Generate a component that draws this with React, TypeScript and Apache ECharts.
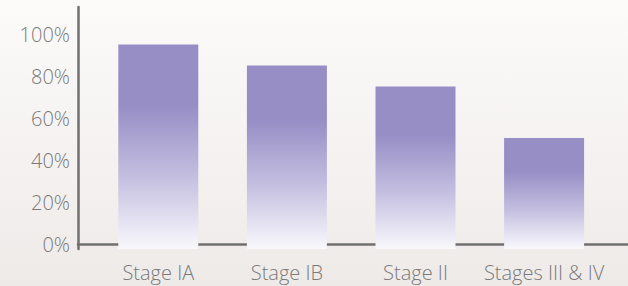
import React, { useEffect, useRef } from "react";
import * as echarts from "echarts";

const categories = ["Stage IA", "Stage IB", "Stage II", "Stages III & IV"];
const values = [95, 85, 75, 50.5];
const tickValues = [0, 20, 40, 60, 80, 100];

export default function App() {
  const ref = useRef<HTMLDivElement>(null);
  useEffect(() => {
    document.body.style.margin = "0";
    const chart = echarts.init(ref.current!, null, { renderer: "svg" });
    const labelColor = "#7a7a7a";
    const font = "'Open Sans', 'Noto Sans', sans-serif";
    const yMin = -2.38;
    const yMax = 112.86;
    chart.setOption({
      animation: false,
      backgroundColor: "transparent",
      grid: [
        { left: 78, right: 0, top: 7, bottom: 37 },
        { left: 94, right: 19.6, top: 7, bottom: 37 },
      ],
      xAxis: [
        {
          type: "category",
          gridIndex: 0,
          data: categories,
          axisLine: { show: true, lineStyle: { color: "#707070", width: 2.5 } },
          axisTick: { show: false },
          axisLabel: { show: false },
          splitLine: { show: false },
        },
        {
          type: "category",
          gridIndex: 1,
          data: categories,
          axisLine: { show: false },
          axisTick: { show: false },
          axisLabel: {
            color: labelColor,
            fontSize: 20,
            fontWeight: 300,
            fontFamily: font,
            margin: 13,
            interval: 0,
          },
          splitLine: { show: false },
        },
      ],
      yAxis: [
        {
          type: "value",
          gridIndex: 0,
          min: yMin,
          max: yMax,
          axisLine: { show: true, lineStyle: { color: "#707070", width: 2.5 } },
          axisTick: { show: false },
          splitLine: { show: false },
          axisLabel: {
            color: labelColor,
            fontSize: 20,
            fontWeight: 300,
            fontFamily: font,
            margin: 8,
            showMinLabel: false,
            showMaxLabel: false,
            formatter: (v: number) => {
              const r = Math.round(v);
              return Math.abs(v - r) < 1e-6 && tickValues.indexOf(r) >= 0 ? r + "%" : "";
            },
          },
        },
        {
          type: "value",
          gridIndex: 1,
          min: yMin,
          max: yMax,
          show: false,
        },
      ],
      series: [
        {
          type: "custom",
          xAxisIndex: 1,
          yAxisIndex: 1,
          data: values.map((v, i) => [i, v]),
          renderItem: (params: any, api: any) => {
            const top = api.coord([api.value(0), api.value(1)]);
            const bottom = params.coordSys.y + params.coordSys.height;
            const w = api.size([1, 0])[0] * 0.622;
            return {
              type: "rect",
              shape: { x: top[0] - w / 2, y: top[1], width: w, height: bottom - top[1] },
              style: {
                fill: new echarts.graphic.LinearGradient(0, 0, 0, 1, [
                  { offset: 0, color: "#978ec6" },
                  { offset: 0.3, color: "#978ec6" },
                  { offset: 0.65, color: "#c4bfe0" },
                  { offset: 1, color: "#f9f8fc" },
                ]),
              },
            };
          },
        },
      ],
    });
    return () => chart.dispose();
  }, []);
  return (
    <div
      ref={ref}
      style={{
        width: 628,
        height: 286,
        background: "linear-gradient(#fcfbfa, #eeeae8)",
      }}
    />
  );
}
